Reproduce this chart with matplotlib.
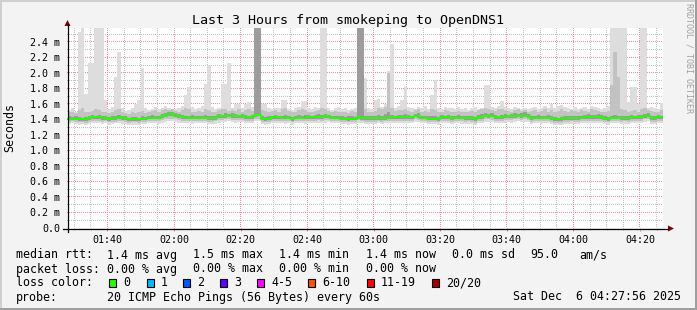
import numpy as np
import matplotlib
matplotlib.use("Agg")
import matplotlib.pyplot as plt
from matplotlib.patches import Rectangle, Polygon
from matplotlib.lines import Line2D
from matplotlib.colors import to_rgba

# ---------------- data ----------------
title = "Last 3 Hours from smokeping to OpenDNS1"
y_label = "Seconds"
side_text = "RRDTOOL / TOBI OETIKER"

start_minute = 88          # first sample at 01:28 (minutes after midnight)
view_start, view_end = 87.83, 266.93

x_tick_minutes = [100, 120, 140, 160, 180, 200, 220, 240, 260]
x_tick_labels = ["01:40", "02:00", "02:20", "02:40", "03:00", "03:20", "03:40", "04:00", "04:20"]
y_tick_values = [0.0, 0.2, 0.4, 0.6, 0.8, 1.0, 1.2, 1.4, 1.6, 1.8, 2.0, 2.2, 2.4]
y_tick_labels = ["0.0", "0.2 m", "0.4 m", "0.6 m", "0.8 m", "1.0 m", "1.2 m", "1.4 m",
                 "1.6 m", "1.8 m", "2.0 m", "2.2 m", "2.4 m"]
y_max = 2.58

# median rtt (ms), one value per minute
median = [
    1.41, 1.41, 1.41, 1.40, 1.40, 1.40, 1.415, 1.43, 1.43, 1.43,
    1.415, 1.415, 1.40, 1.415, 1.415, 1.43, 1.415, 1.415, 1.40, 1.40,
    1.40, 1.40, 1.41, 1.41, 1.425, 1.425, 1.425, 1.425, 1.45, 1.45,
    1.47, 1.47, 1.45, 1.45, 1.43, 1.43, 1.425, 1.425, 1.425, 1.425,
    1.425, 1.425, 1.415, 1.415, 1.415, 1.44, 1.44, 1.45, 1.45, 1.45,
    1.44, 1.44, 1.44, 1.43, 1.43, 1.43, 1.46, 1.46, 1.41, 1.41,
    1.41, 1.43, 1.43, 1.43, 1.425, 1.425, 1.425, 1.40, 1.425, 1.425,
    1.425, 1.425, 1.43, 1.43, 1.43, 1.43, 1.43, 1.44, 1.44, 1.425,
    1.425, 1.425, 1.41, 1.41, 1.41, 1.41, 1.41, 1.43, 1.415, 1.415,
    1.415, 1.415, 1.415, 1.415, 1.415, 1.415, 1.415, 1.43, 1.43, 1.43,
    1.43, 1.43, 1.43, 1.43, 1.45, 1.45, 1.425, 1.425, 1.41, 1.41,
    1.41, 1.41, 1.43, 1.43, 1.43, 1.415, 1.425, 1.425, 1.425, 1.415,
    1.415, 1.415, 1.40, 1.43, 1.43, 1.45, 1.45, 1.45, 1.43, 1.43,
    1.43, 1.44, 1.44, 1.44, 1.45, 1.45, 1.45, 1.45, 1.45, 1.415,
    1.425, 1.425, 1.425, 1.425, 1.425, 1.415, 1.40, 1.40, 1.40, 1.415,
    1.415, 1.415, 1.415, 1.415, 1.425, 1.43, 1.43, 1.43, 1.43, 1.43,
    1.43, 1.41, 1.41, 1.425, 1.425, 1.425, 1.415, 1.415, 1.415, 1.43,
    1.43, 1.43, 1.43, 1.45, 1.45, 1.415, 1.415, 1.43, 1.43,
]

# smoke: highest ping of each round (ms)
smoke_max = [
    1.52, 1.55, 1.50, 2.53, 3.0, 1.73, 2.13, 2.13, 3.0, 3.0,
    3.0, 1.65, 1.53, 1.56, 1.95, 2.27, 1.55, 1.51, 1.52, 1.55,
    1.60, 1.65, 2.07, 1.55, 1.52, 1.54, 1.56, 1.53, 1.55, 1.57,
    1.55, 1.52, 1.53, 1.55, 1.58, 1.72, 1.82, 1.56, 1.53, 1.55,
    1.57, 1.86, 2.10, 1.56, 1.53, 1.55, 1.86, 1.86, 2.13, 1.55,
    1.60, 1.60, 1.55, 1.60, 1.62, 1.56, 3.0, 3.0, 1.60, 1.60,
    1.55, 1.53, 1.55, 1.55, 1.65, 1.65, 1.54, 1.52, 1.55, 1.56,
    1.64, 1.64, 1.55, 1.53, 1.56, 1.55, 3.0, 3.0, 1.55, 1.52,
    1.55, 1.56, 1.53, 1.55, 1.52, 1.54, 1.55, 3.0, 3.0, 1.94,
    1.55, 1.53, 1.65, 1.67, 1.56, 1.60, 2.02, 2.38, 1.55, 1.58,
    1.65, 1.82, 1.56, 1.55, 1.53, 1.56, 1.55, 1.57, 1.54, 1.72,
    1.91, 1.55, 1.53, 1.56, 1.55, 1.55, 1.54, 1.56, 1.53, 1.55,
    1.52, 1.55, 1.56, 1.54, 1.55, 1.85, 1.85, 1.56, 1.55, 1.58,
    1.64, 1.56, 1.55, 1.53, 1.56, 1.55, 1.54, 1.55, 1.53, 1.55,
    1.56, 1.54, 1.55, 1.57, 1.55, 1.60, 1.55, 1.57, 1.59, 1.56,
    1.55, 1.54, 1.56, 1.53, 1.55, 1.56, 1.54, 1.58, 1.56, 1.55,
    1.53, 1.55, 1.57, 3.0, 3.0, 3.0, 3.0, 3.0, 1.63, 1.82,
    1.82, 1.60, 3.0, 3.0, 1.55, 1.56, 1.55, 1.53, 1.61,
]

smoke_q90 = [
    1.49, 1.50, 1.48, 1.52, 1.55, 1.49, 1.50, 1.51, 1.53, 1.52,
    1.50, 1.49, 1.48, 1.50, 1.52, 1.53, 1.49, 1.48, 1.47, 1.49,
    1.48, 1.49, 1.51, 1.48, 1.50, 1.51, 1.52, 1.50, 1.52, 1.53,
    1.52, 1.53, 1.51, 1.50, 1.52, 1.55, 1.53, 1.50, 1.49, 1.51,
    1.50, 1.53, 1.52, 1.49, 1.50, 1.52, 1.54, 1.53, 1.51, 1.52,
    1.51, 1.53, 1.50, 1.52, 1.54, 1.51, 3.0, 3.0, 1.52, 1.51,
    1.50, 1.51, 1.52, 1.50, 1.54, 1.55, 1.51, 1.49, 1.50, 1.52,
    1.53, 1.52, 1.50, 1.49, 1.51, 1.52, 1.55, 1.53, 1.51, 1.50,
    1.51, 1.50, 1.49, 1.50, 1.48, 1.51, 1.50, 3.0, 3.0, 1.53,
    1.50, 1.49, 1.51, 1.55, 1.53, 1.56, 2.00, 1.55, 1.51, 1.52,
    1.52, 1.54, 1.51, 1.50, 1.52, 1.53, 1.50, 1.51, 1.49, 1.53,
    1.52, 1.49, 1.50, 1.52, 1.51, 1.50, 1.49, 1.51, 1.50, 1.49,
    1.50, 1.51, 1.49, 1.52, 1.53, 1.55, 1.54, 1.52, 1.51, 1.53,
    1.54, 1.52, 1.51, 1.50, 1.52, 1.53, 1.51, 1.52, 1.50, 1.51,
    1.52, 1.50, 1.51, 1.53, 1.50, 1.52, 1.50, 1.51, 1.53, 1.51,
    1.50, 1.52, 1.51, 1.50, 1.52, 1.51, 1.50, 1.53, 1.52, 1.51,
    1.50, 1.49, 1.51, 1.85, 2.27, 1.95, 1.53, 1.52, 1.50, 1.51,
    1.52, 1.50, 1.53, 1.55, 1.52, 1.51, 1.50, 1.49, 1.52,
]

smoke_q75 = [
    1.44, 1.43, 1.44, 1.43, 1.42, 1.43, 1.44, 1.46, 1.45, 1.46,
    1.44, 1.45, 1.43, 1.44, 1.45, 1.46, 1.44, 1.44, 1.42, 1.43,
    1.43, 1.42, 1.44, 1.43, 1.45, 1.46, 1.45, 1.45, 1.47, 1.48,
    1.49, 1.50, 1.48, 1.47, 1.46, 1.45, 1.45, 1.46, 1.44, 1.45,
    1.45, 1.46, 1.44, 1.44, 1.45, 1.47, 1.46, 1.48, 1.47, 1.48,
    1.47, 1.46, 1.47, 1.46, 1.45, 1.46, 3.0, 3.0, 1.44, 1.43,
    1.44, 1.45, 1.46, 1.45, 1.45, 1.46, 1.44, 1.43, 1.45, 1.46,
    1.45, 1.46, 1.46, 1.45, 1.46, 1.47, 1.46, 1.47, 1.46, 1.45,
    1.45, 1.45, 1.44, 1.43, 1.44, 1.44, 1.43, 3.0, 3.0, 1.44,
    1.44, 1.45, 1.44, 1.46, 1.45, 1.47, 1.50, 1.46, 1.45, 1.46,
    1.46, 1.47, 1.46, 1.45, 1.47, 1.48, 1.45, 1.45, 1.44, 1.45,
    1.44, 1.43, 1.46, 1.45, 1.46, 1.44, 1.45, 1.46, 1.45, 1.44,
    1.44, 1.45, 1.43, 1.46, 1.47, 1.48, 1.47, 1.48, 1.46, 1.45,
    1.46, 1.47, 1.46, 1.47, 1.48, 1.47, 1.48, 1.49, 1.47, 1.44,
    1.45, 1.46, 1.45, 1.45, 1.46, 1.44, 1.43, 1.42, 1.43, 1.44,
    1.44, 1.45, 1.44, 1.44, 1.45, 1.46, 1.47, 1.46, 1.46, 1.47,
    1.46, 1.44, 1.43, 1.45, 1.46, 1.45, 1.44, 1.45, 1.44, 1.46,
    1.45, 1.46, 1.46, 1.47, 1.48, 1.44, 1.44, 1.46, 1.45,
]

smoke_q25 = [
    1.39, 1.39, 1.395, 1.38, 1.385, 1.38, 1.39, 1.41, 1.40, 1.41,
    1.39, 1.395, 1.38, 1.39, 1.395, 1.41, 1.39, 1.39, 1.38, 1.38,
    1.38, 1.385, 1.39, 1.39, 1.40, 1.405, 1.40, 1.40, 1.425, 1.43,
    1.445, 1.45, 1.43, 1.425, 1.41, 1.405, 1.40, 1.40, 1.405, 1.40,
    1.40, 1.405, 1.39, 1.395, 1.39, 1.415, 1.42, 1.425, 1.43, 1.425,
    1.42, 1.415, 1.42, 1.41, 1.405, 1.41, 1.435, 1.44, 1.39, 1.385,
    1.39, 1.41, 1.405, 1.41, 1.40, 1.40, 1.405, 1.38, 1.40, 1.405,
    1.40, 1.40, 1.41, 1.405, 1.41, 1.41, 1.405, 1.415, 1.42, 1.40,
    1.40, 1.405, 1.39, 1.39, 1.385, 1.39, 1.39, 1.41, 1.395, 1.39,
    1.39, 1.395, 1.39, 1.395, 1.39, 1.395, 1.40, 1.41, 1.405, 1.41,
    1.41, 1.405, 1.41, 1.405, 1.43, 1.425, 1.40, 1.405, 1.39, 1.39,
    1.39, 1.385, 1.41, 1.405, 1.41, 1.39, 1.40, 1.405, 1.40, 1.39,
    1.395, 1.39, 1.38, 1.41, 1.405, 1.43, 1.425, 1.43, 1.41, 1.405,
    1.41, 1.415, 1.42, 1.415, 1.425, 1.43, 1.425, 1.43, 1.425, 1.39,
    1.40, 1.405, 1.40, 1.40, 1.405, 1.39, 1.38, 1.38, 1.375, 1.39,
    1.39, 1.395, 1.39, 1.395, 1.40, 1.41, 1.405, 1.41, 1.41, 1.405,
    1.41, 1.39, 1.385, 1.40, 1.40, 1.405, 1.39, 1.395, 1.39, 1.41,
    1.405, 1.41, 1.41, 1.425, 1.43, 1.39, 1.395, 1.41, 1.405,
]

smoke_q10 = [
    1.37, 1.375, 1.37, 1.365, 1.37, 1.36, 1.37, 1.38, 1.38, 1.385,
    1.37, 1.375, 1.365, 1.37, 1.37, 1.38, 1.375, 1.37, 1.36, 1.365,
    1.365, 1.36, 1.37, 1.37, 1.38, 1.38, 1.385, 1.38, 1.39, 1.40,
    1.41, 1.41, 1.40, 1.39, 1.385, 1.38, 1.38, 1.375, 1.38, 1.38,
    1.38, 1.385, 1.37, 1.37, 1.375, 1.39, 1.395, 1.40, 1.40, 1.395,
    1.39, 1.39, 1.395, 1.385, 1.38, 1.38, 1.41, 1.41, 1.37, 1.365,
    1.37, 1.385, 1.38, 1.385, 1.38, 1.375, 1.38, 1.365, 1.38, 1.38,
    1.38, 1.38, 1.385, 1.38, 1.385, 1.39, 1.38, 1.39, 1.395, 1.38,
    1.38, 1.38, 1.37, 1.37, 1.365, 1.37, 1.37, 1.39, 1.375, 1.37,
    1.37, 1.37, 1.37, 1.375, 1.37, 1.375, 1.38, 1.385, 1.38, 1.385,
    1.385, 1.38, 1.385, 1.38, 1.40, 1.395, 1.38, 1.38, 1.37, 1.37,
    1.37, 1.365, 1.385, 1.38, 1.385, 1.37, 1.38, 1.38, 1.375, 1.37,
    1.375, 1.37, 1.36, 1.385, 1.385, 1.40, 1.40, 1.395, 1.385, 1.38,
    1.385, 1.39, 1.395, 1.39, 1.40, 1.40, 1.395, 1.40, 1.395, 1.37,
    1.38, 1.38, 1.375, 1.38, 1.38, 1.37, 1.36, 1.36, 1.355, 1.37,
    1.37, 1.375, 1.37, 1.37, 1.38, 1.385, 1.38, 1.385, 1.385, 1.38,
    1.385, 1.37, 1.365, 1.38, 1.38, 1.38, 1.37, 1.375, 1.37, 1.385,
    1.38, 1.385, 1.385, 1.40, 1.40, 1.37, 1.37, 1.385, 1.38,
]

smoke_min = [
    1.34, 1.35, 1.345, 1.33, 1.34, 1.33, 1.345, 1.35, 1.36, 1.35,
    1.345, 1.35, 1.33, 1.34, 1.35, 1.355, 1.34, 1.345, 1.33, 1.335,
    1.33, 1.335, 1.34, 1.345, 1.35, 1.355, 1.35, 1.345, 1.36, 1.37,
    1.38, 1.385, 1.37, 1.36, 1.355, 1.35, 1.35, 1.345, 1.35, 1.355,
    1.35, 1.355, 1.34, 1.345, 1.345, 1.36, 1.365, 1.37, 1.375, 1.365,
    1.36, 1.365, 1.37, 1.355, 1.35, 1.355, 1.38, 1.385, 1.34, 1.335,
    1.34, 1.355, 1.35, 1.36, 1.35, 1.345, 1.35, 1.335, 1.35, 1.355,
    1.35, 1.345, 1.355, 1.35, 1.36, 1.36, 1.35, 1.36, 1.365, 1.35,
    1.35, 1.355, 1.34, 1.345, 1.335, 1.34, 1.345, 1.36, 1.35, 1.345,
    1.34, 1.345, 1.34, 1.35, 1.345, 1.35, 1.355, 1.36, 1.355, 1.36,
    1.355, 1.35, 1.36, 1.355, 1.37, 1.365, 1.35, 1.355, 1.34, 1.345,
    1.34, 1.335, 1.355, 1.35, 1.355, 1.345, 1.35, 1.35, 1.345, 1.34,
    1.345, 1.34, 1.33, 1.355, 1.36, 1.37, 1.37, 1.365, 1.355, 1.35,
    1.355, 1.36, 1.365, 1.36, 1.37, 1.375, 1.365, 1.37, 1.365, 1.34,
    1.35, 1.35, 1.345, 1.35, 1.355, 1.34, 1.33, 1.335, 1.325, 1.34,
    1.34, 1.345, 1.34, 1.345, 1.35, 1.355, 1.35, 1.36, 1.355, 1.35,
    1.355, 1.34, 1.335, 1.35, 1.35, 1.355, 1.34, 1.345, 1.34, 1.355,
    1.35, 1.355, 1.355, 1.37, 1.375, 1.34, 1.345, 1.355, 1.35,
]

# legend content
rtt_label = "median rtt:"
rtt_stats = ["1.4 ms avg", "1.5 ms max", "1.4 ms min", "1.4 ms now", "0.0 ms sd", "95.0", "am/s"]
loss_label = "packet loss:"
loss_stats = ["0.00 % avg", "0.00 % max", "0.00 % min", "0.00 % now"]
color_label = "loss color:"
loss_names = ["0", "1", "2", "3", "4-5", "6-10", "11-19", "20/20"]
loss_colors = ["#26FF00", "#00B8FF", "#0059FF", "#5E00FF", "#FF00FF", "#FF5500", "#FF0000", "#A00000"]
probe_label = "probe:"
probe_text = "20 ICMP Echo Pings (56 Bytes) every 60s"
date_text = "Sat Dec  6 04:27:56 2025"

# ---------------- drawing ----------------
W, H = 697, 310
MONO = "DejaVu Sans Mono"
plt.rcParams["font.family"] = MONO

fig = plt.figure(figsize=(W / 100, H / 100), dpi=100, facecolor="#F3F3F3")


def fx(x):
    return x / W


def fy(y):
    return 1 - y / H


L, R, T, B = 67, 663, 28, 228
ax = fig.add_axes([fx(L), fy(B), (R - L) / W, (B - T) / H])
ax.set_facecolor("white")
for s in ax.spines.values():
    s.set_visible(False)
ax.set_xlim(view_start, view_end)
ax.set_ylim(0, y_max)

# pixel-exact dotted grid (1 px on / 1 px off), positions taken from the axis scales
pw, ph = R - L, B - T
grid_img = np.zeros((ph, pw, 4))
minor_rgba = to_rgba("#C4C4C4")
major_rgba = to_rgba("#F29292")
x_minor = [m for m in range(90, 267, 5) if m not in x_tick_minutes]
y_minor = [round(0.1 + 0.2 * i, 2) for i in range(13)]
bx0, by0 = ax.bbox.x0, ax.bbox.y0


def col_of(xv):
    return int(np.floor(ax.transData.transform((xv, 0))[0] - bx0))


def row_of(yv):
    return int(np.floor(by0 + ph - ax.transData.transform((view_start, yv))[1]))


for layer, xs, ys in [(minor_rgba, x_minor, y_minor),
                      (major_rgba, x_tick_minutes, [v for v in y_tick_values if v > 0])]:
    for yv in ys:
        r = row_of(yv)
        if 0 <= r < ph:
            grid_img[r, ::2] = layer
    for xv in xs:
        c = col_of(xv)
        if 0 <= c < pw:
            grid_img[::2, c] = layer

ax.imshow(grid_img, extent=(view_start, view_end, 0, y_max), origin="upper",
          interpolation="nearest", aspect="auto", zorder=1)

n = len(median)
edges = start_minute + np.arange(n + 1)


def st(a):
    a = np.asarray(a, dtype=float)
    return np.append(a, a[-1])


ax.fill_between(edges, st(smoke_min), st(smoke_max), step="post", color="#DDDDDD", lw=0, zorder=2)
ax.fill_between(edges, st(smoke_q10), st(smoke_q90), step="post", color="#C2C2C2", lw=0, zorder=3)
ax.fill_between(edges, st(smoke_q25), st(smoke_q75), step="post", color="#9C9C9C", lw=0, zorder=4)
ax.step(edges, st(median), where="post", color="#26FF00", lw=1.45, zorder=6)

ax.set_xlim(view_start, view_end)
ax.set_ylim(0, y_max)

ax.set_xticks(x_tick_minutes)
ax.set_xticklabels(x_tick_labels)
ax.set_xticks(x_minor, minor=True)
ax.set_yticks(y_tick_values)
ax.set_yticklabels(y_tick_labels)

ax.tick_params(axis="x", which="major", length=2.5, width=0.72, color="#F08080",
               direction="out", pad=2.6, labelsize=7.2)
ax.tick_params(axis="x", which="minor", length=1.5, width=0.72, color="#BBBBBB", direction="out")
ax.tick_params(axis="y", which="both", length=0, pad=5.0, labelsize=7.2)

# axes lines and arrows
fig.add_artist(Line2D([fx(L + 0.5), fx(L + 0.5)], [fy(232), fy(24)], color="black", lw=0.9))
fig.add_artist(Line2D([fx(63), fx(668)], [fy(B + 0.5), fy(B + 0.5)], color="black", lw=0.9))
fig.add_artist(Polygon([[fx(64.5), fy(26)], [fx(70.5), fy(26)], [fx(67.5), fy(20)]],
                       closed=True, color="#7F0000", lw=0))
fig.add_artist(Polygon([[fx(668), fy(225.5)], [fx(668), fy(231.5)], [fx(674), fy(228.5)]],
                       closed=True, color="#7F0000", lw=0))

# frame
fig.add_artist(Rectangle((0, 0), 1, 2 / H, transform=fig.transFigure, color="#9E9E9E", lw=0))
fig.add_artist(Rectangle((1 - 2 / W, 0), 2 / W, 1, transform=fig.transFigure, color="#9E9E9E", lw=0))
fig.add_artist(Rectangle((0, 1 - 2 / H), 1 - 2 / W, 2 / H, transform=fig.transFigure, color="#CFCFCF", lw=0))
fig.add_artist(Rectangle((0, 2 / H), 2 / W, 1 - 4 / H, transform=fig.transFigure, color="#CFCFCF", lw=0))

# texts
fig.text(fx(348.5), fy(24), title, ha="center", va="baseline", fontsize=9.6)
fig.text(fx(10), fy(128), y_label, rotation=90, ha="center", va="center", fontsize=8.4)
fig.text(fx(688.5), fy(58), side_text, rotation=270, ha="center", va="center",
         fontsize=6.0, color="#A0A0A0")

FS = 8.4
rows = [258.5, 272.5, 286.5, 300.5]
fig.text(fx(16), fy(rows[0]), rtt_label, fontsize=FS, va="baseline")
for x, s in zip([107, 193, 279, 366, 452, 530, 579], rtt_stats):
    fig.text(fx(x), fy(rows[0]), s, fontsize=FS, va="baseline")

fig.text(fx(16), fy(rows[1]), loss_label, fontsize=FS, va="baseline")
for x, s in zip([107, 193, 279, 366], loss_stats):
    fig.text(fx(x), fy(rows[1]), s, fontsize=FS, va="baseline")

fig.text(fx(16), fy(rows[2]), color_label, fontsize=FS, va="baseline")
box_x = [108, 146, 182, 219, 256, 307, 366, 431]
for bx, name, c in zip(box_x, loss_names, loss_colors):
    fig.add_artist(Rectangle((fx(bx + 0.5), fy(286.5)), 7 / W, 8 / H, transform=fig.transFigure,
                             facecolor=c, edgecolor="black", lw=0.8))
    fig.text(fx(bx + 15), fy(rows[2]), name, fontsize=FS, va="baseline")

fig.text(fx(16), fy(rows[3]), probe_label, fontsize=FS, va="baseline")
fig.text(fx(107), fy(rows[3]), probe_text, fontsize=FS, va="baseline")
fig.text(fx(681), fy(rows[3]), date_text, fontsize=FS, va="baseline", ha="right")

fig.savefig("out.png", dpi=100, facecolor=fig.get_facecolor())
